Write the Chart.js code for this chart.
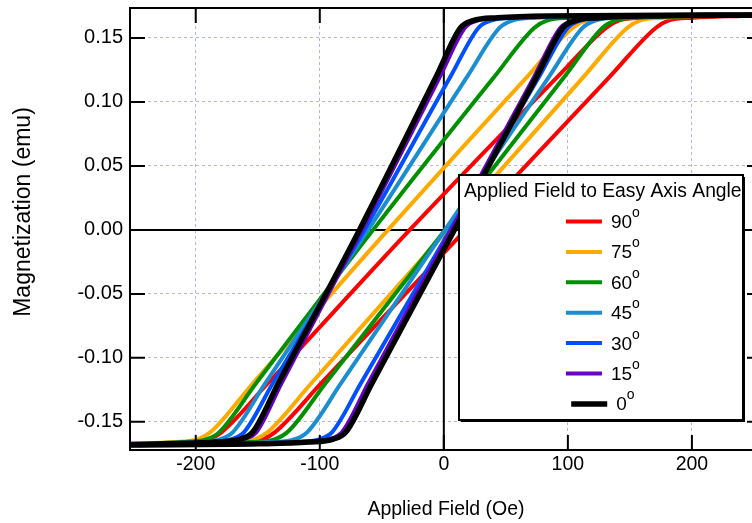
<!DOCTYPE html>
<html>
<head>
<meta charset="utf-8">
<script src="https://cdn.jsdelivr.net/npm/chart.js@4"></script>
<style>
  html, body { margin: 0; padding: 0; background: #fff; overflow: hidden; }
  #wrap { width: 765px; height: 523px; }
</style>
</head>
<body>
<div id="wrap"><canvas id="loops" width="765" height="523"></canvas></div>
<script>
// field (Oe), magnetization (emu)
var angleLabels = ['90', '75', '60', '45', '30', '15', '0'];
var xTicks = [-200, -100, 0, 100, 200];
var yTicks = [-0.15, -0.10, -0.05, 0.00, 0.05, 0.10, 0.15];

// field swept down (left side of each loop)
var down90 = [[-253,-0.1673],[-249,-0.1672],[-209,-0.1658],[-189,-0.1635],[-179,-0.158],[-142,-0.12],[-27.5,0],[92,0.12],[131,0.158],[141,0.1635],[161,0.1658],[201,0.1672],[257,0.168]];
var down75 = [[-253,-0.1671],[-218,-0.1658],[-198,-0.1635],[-188,-0.158],[-154,-0.12],[-45,0],[67.5,0.12],[104,0.158],[114,0.1635],[134,0.1658],[174,0.1672],[257,0.168]];
var down60 = [[-253,-0.1673],[-211,-0.1658],[-191,-0.1635],[-181,-0.158],[-151.5,-0.12],[-57,0],[41,0.12],[73,0.158],[83,0.1635],[103,0.1658],[143,0.1672],[257,0.168]];
var down45 = [[-253,-0.1675],[-240,-0.1672],[-200,-0.1658],[-180,-0.1635],[-170,-0.158],[-144,-0.12],[-61,0],[19,0.12],[45,0.158],[55,0.1635],[75,0.1658],[115,0.1672],[257,0.168]];
var down30 = [[-253,-0.1677],[-231,-0.1672],[-191,-0.1658],[-171,-0.1635],[-161,-0.158],[-138,-0.12],[-64,0],[5.5,0.12],[28,0.158],[38,0.1635],[58,0.1658],[98,0.1672],[257,0.168]];
var down15 = [[-253,-0.1678],[-221,-0.1672],[-181,-0.1658],[-161,-0.1635],[-151,-0.158],[-131,-0.12],[-66,0],[-3,0.12],[17,0.158],[27,0.1635],[47,0.1658],[87,0.1672],[257,0.168]];
var down0  = [[-253,-0.1678],[-224,-0.1672],[-184,-0.1658],[-164,-0.1635],[-154,-0.158],[-133.5,-0.12],[-68,0],[-6,0.12],[13.5,0.158],[23.5,0.1635],[43.5,0.1658],[83.5,0.1672],[257,0.168]];

// field swept up (right side of each loop)
var up90 = [[-253,-0.1678],[-206,-0.1672],[-166,-0.1658],[-146,-0.1635],[-136,-0.158],[-99,-0.12],[17.5,0],[134,0.12],[171,0.158],[181,0.1635],[201,0.1658],[241,0.1672],[257,0.1675]];
var up75 = [[-253,-0.1678],[-212,-0.1672],[-172,-0.1658],[-152,-0.1635],[-142,-0.158],[-107,-0.12],[3,0],[113,0.12],[148,0.158],[158,0.1635],[178,0.1658],[218,0.1672],[257,0.1678]];
var up60 = [[-253,-0.168],[-196,-0.1672],[-156,-0.1658],[-136,-0.1635],[-126,-0.158],[-95.5,-0.12],[1,0],[97.5,0.12],[128,0.158],[138,0.1635],[158,0.1658],[198,0.1672],[257,0.168]];
var up45 = [[-253,-0.168],[-180,-0.1672],[-140,-0.1658],[-120,-0.1635],[-110,-0.158],[-83,-0.12],[1,0],[85,0.12],[112,0.158],[122,0.1635],[142,0.1658],[182,0.1672],[257,0.168]];
var up30 = [[-253,-0.168],[-160,-0.1672],[-120,-0.1658],[-100,-0.1635],[-90,-0.158],[-67,-0.12],[5,0],[77,0.12],[100,0.158],[110,0.1635],[130,0.1658],[170,0.1672],[257,0.168]];
var up15 = [[-253,-0.168],[-152,-0.1672],[-112,-0.1658],[-92,-0.1635],[-82,-0.158],[-61,-0.12],[6,0],[73,0.12],[94,0.158],[104,0.1635],[124,0.1658],[164,0.1672],[257,0.168]];
var up0  = [[-253,-0.168],[-149,-0.1672],[-109,-0.1658],[-89,-0.1635],[-79,-0.158],[-58,-0.12],[8.5,0],[75,0.12],[96,0.158],[106,0.1635],[126,0.1658],[166,0.1672],[257,0.168]];

var downBranches = [down90, down75, down60, down45, down30, down15, down0];
var upBranches = [up90, up75, up60, up45, up30, up15, up0];

var lineColors = ['#ff0000', '#ffaa00', '#009000', '#1a8ed0', '#0050ff', '#6a00c8', '#000000'];
var lineWidths = [4, 4, 4, 4, 4, 4, 5.5];
var fontFamily = '"Liberation Sans", Arial, sans-serif';
var gridColor = '#b4b4ee';

function toPoints(arr) {
   return arr.map(function(p) { return {x: p[0], y: p[1]}; });
}

var datasets = [];
for (var i = 0; i < angleLabels.length; i++) {
   [downBranches[i], upBranches[i]].forEach(function(branch) {
      datasets.push({
         label: angleLabels[i],
         data: toPoints(branch),
         showLine: true,
         borderColor: lineColors[i],
         backgroundColor: lineColors[i],
         borderWidth: lineWidths[i],
         pointRadius: 0,
         cubicInterpolationMode: 'monotone',
         order: angleLabels.length - i
      });
   });
}

// zero lines, inward ticks, frame, boxed legend
var framePlugin = {
   id: 'frame',
   beforeDatasetsDraw: function(chart) {
      var ctx = chart.ctx, a = chart.chartArea;
      var x0 = chart.scales.x.getPixelForValue(0);
      var y0 = chart.scales.y.getPixelForValue(0);
      ctx.save();
      ctx.strokeStyle = '#000';
      ctx.lineWidth = 2;
      ctx.beginPath();
      ctx.moveTo(x0, a.top); ctx.lineTo(x0, a.bottom);
      ctx.moveTo(a.left, y0); ctx.lineTo(a.right, y0);
      ctx.stroke();
      ctx.restore();
   },
   afterDatasetsDraw: function(chart) {
      var ctx = chart.ctx, a = chart.chartArea;
      var tick = 15;
      ctx.save();
      ctx.strokeStyle = '#000';
      ctx.lineWidth = 2;
      ctx.beginPath();
      xTicks.forEach(function(v) {
         var px = chart.scales.x.getPixelForValue(v);
         ctx.moveTo(px, a.bottom); ctx.lineTo(px, a.bottom - tick);
         ctx.moveTo(px, a.top); ctx.lineTo(px, a.top + tick);
      });
      yTicks.forEach(function(v) {
         var py = chart.scales.y.getPixelForValue(v);
         ctx.moveTo(a.left, py); ctx.lineTo(a.left + tick, py);
         ctx.moveTo(a.right, py); ctx.lineTo(a.right - tick, py);
      });
      ctx.stroke();
      ctx.strokeRect(a.left, a.top, a.right - a.left, a.bottom - a.top);
      ctx.restore();
   },
   afterDraw: function(chart) {
      var ctx = chart.ctx;
      ctx.save();

      // y axis title, placed like the original
      ctx.translate(24, 212);
      ctx.rotate(-Math.PI / 2);
      ctx.fillStyle = '#000';
      ctx.font = '23px ' + fontFamily;
      ctx.textAlign = 'center';
      ctx.textBaseline = 'middle';
      ctx.fillText('Magnetization (emu)', 0, 0);
      ctx.restore();

      // legend box
      var bx = 459, by = 175, bw = 284, bh = 245;
      ctx.save();
      ctx.fillStyle = '#000';
      ctx.fillRect(bx + 2, by + 2, bw, bh);
      ctx.fillStyle = '#fff';
      ctx.fillRect(bx, by, bw, bh);
      ctx.strokeStyle = '#000';
      ctx.lineWidth = 2;
      ctx.strokeRect(bx, by, bw, bh);

      ctx.fillStyle = '#000';
      ctx.textAlign = 'left';
      ctx.textBaseline = 'alphabetic';
      ctx.font = '19.3px ' + fontFamily;
      ctx.fillText('Applied Field to Easy Axis Angle', 464, 197);

      for (var i = 0; i < angleLabels.length; i++) {
         var base = 228 + i * 30.4;
         ctx.font = '19px ' + fontFamily;
         var tw = ctx.measureText(angleLabels[i]).width;
         var total = 36 + 9 + tw + 8;
         var start = 603 - total / 2;
         ctx.strokeStyle = lineColors[i];
         ctx.lineWidth = lineWidths[i];
         ctx.beginPath();
         ctx.moveTo(start, base - 6.5);
         ctx.lineTo(start + 36, base - 6.5);
         ctx.stroke();
         ctx.fillStyle = '#000';
         ctx.fillText(angleLabels[i], start + 45, base);
         ctx.font = '14px ' + fontFamily;
         ctx.fillText('o', start + 45 + tw, base - 11);
      }
      ctx.restore();
   }
};

new Chart(document.getElementById('loops'), {
   type: 'scatter',
   data: { datasets: datasets },
   plugins: [framePlugin],
   options: {
      responsive: false,
      animation: false,
      layout: { padding: { top: 8, right: 3, bottom: 0, left: 0 } },
      plugins: {
         legend: { display: false },
         tooltip: { enabled: false }
      },
      scales: {
         x: {
            type: 'linear',
            min: -253,
            max: 256.5,
            afterBuildTicks: function(scale) {
               scale.ticks = xTicks.map(function(v) { return {value: v}; });
            },
            afterFit: function(scale) {
               scale.height = 73;
               scale.paddingLeft = 0;
               scale.paddingRight = 0;
            },
            grid: { color: gridColor, lineWidth: 1, drawTicks: false },
            border: { display: false, dash: [3, 3] },
            ticks: {
               color: '#000',
               padding: 3,
               font: { family: fontFamily, size: 19.5 }
            },
            title: {
               display: true,
               text: 'Applied Field (Oe)',
               color: '#000',
               font: { family: fontFamily, size: 19.5 },
               padding: { top: 0, bottom: 2 }
            }
         },
         y: {
            type: 'linear',
            min: -0.172,
            max: 0.1734,
            afterBuildTicks: function(scale) {
               scale.ticks = yTicks.map(function(v) { return {value: v}; });
            },
            afterFit: function(scale) {
               scale.width = 130;
               scale.paddingTop = 0;
               scale.paddingBottom = 0;
            },
            grid: { color: gridColor, lineWidth: 1, drawTicks: false },
            border: { display: false, dash: [3, 3] },
            ticks: {
               color: '#000',
               padding: 7,
               font: { family: fontFamily, size: 20 },
               callback: function(v) { return v.toFixed(2); }
            }
         }
      }
   }
});
</script>
</body>
</html>
